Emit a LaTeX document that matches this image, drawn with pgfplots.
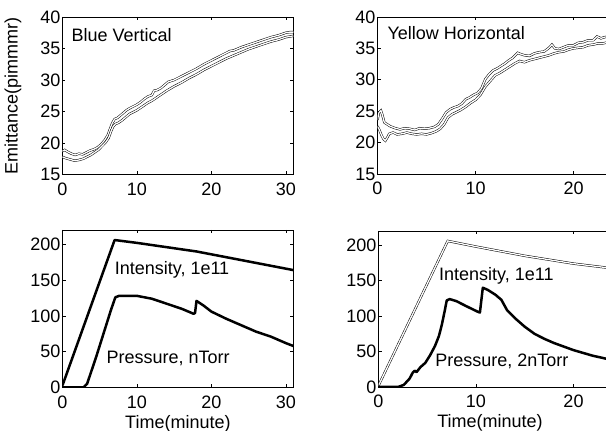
\documentclass[border=0pt]{standalone}
\usepackage{pgfplots}
\pgfplotsset{compat=1.18}
\usepackage{fontspec}
\setmainfont{Liberation Sans}
\newcommand{\bigf}{\fontsize{18}{21}\selectfont}
\pgfplotsset{
  panel/.style={
    scale only axis, anchor=south west,
    font=\bigf,
    /pgf/number format/assume math mode=true,
    tick align=inside, major tick length=3pt,
    axis line style={line width=0.8pt},
    every tick/.style={black, line width=0.6pt},
    yticklabel style={inner sep=1pt, xshift=-1pt},
    xticklabel style={inner sep=1pt, yshift=-7pt},
    xmin=0, xtick={0,10,20,30},
    clip=true,
    every axis y label/.style={at={(rel axis cs:0,0.5)}, xshift=-49.5pt, rotate=90, anchor=center},
    every axis x label/.style={at={(rel axis cs:0.5,0)}, anchor=center, yshift=-36pt},
  },
  emit/.style={panel, ymin=15, ymax=40, ytick={15,20,...,40}},
  inten/.style={panel, ymin=0, ymax=220, ytick={0,50,...,200}},
  hollow/.style={draw=black, line width=0.5pt, double=white, double distance=1.3pt},
  solid line/.style={black, line width=2.5pt, line join=round},
}
\begin{document}
\begin{tikzpicture}
% top left
\begin{axis}[emit, at={(62.5pt,256.5pt)}, width=230.8pt, height=157.5pt, xmax=31,
  ylabel={Emittance(pimmmr)}]
\addplot[hollow] coordinates {
(0,18.7)(0.3,18.9)(0.7,18.6)(1.2,18.3)(1.7,18.1)(2.2,18.3)(2.7,18.2)(3.2,18.5)(3.7,18.8)(4.2,19.0)(4.7,19.3)(5.2,19.8)(5.7,20.5)(6.1,21.3)(6.4,22.3)(6.7,23.2)(7.0,23.8)(7.4,24.0)(7.8,24.4)(8.2,24.8)(8.6,25.2)(9.0,25.5)(9.5,25.8)(10.0,26.1)(10.5,26.5)(11.0,27.0)(11.5,27.4)(12.0,27.6)(12.3,28.3)(12.7,28.4)(13.2,28.7)(13.7,29.2)(14.2,29.7)(15.0,30.0)(16.0,30.6)(17.0,31.2)(18.0,31.8)(19.0,32.5)(20.0,33.1)(21.0,33.7)(22.0,34.3)(22.5,34.6)(23.0,34.7)(24.0,35.2)(25.0,35.6)(26.0,36.0)(27.0,36.4)(28.0,36.8)(29.0,37.1)(30.0,37.5)(30.5,37.6)(31.0,37.6)};
\addplot[hollow] coordinates {
(0,17.8)(0.4,17.6)(1.0,17.4)(1.6,17.2)(2.2,17.3)(2.8,17.5)(3.3,17.8)(3.8,18.1)(4.3,18.5)(4.8,18.9)(5.3,19.5)(5.8,20.1)(6.2,20.8)(6.5,21.8)(6.8,22.6)(7.1,23.0)(7.5,23.2)(8.0,23.6)(8.5,24.1)(9.0,24.6)(9.5,24.9)(10.0,25.2)(10.5,25.6)(11.0,26.0)(11.5,26.4)(12.0,26.7)(12.5,27.1)(13.0,27.5)(13.5,27.9)(14.0,28.3)(15.0,29.0)(16.0,29.6)(17.0,30.3)(18.0,30.9)(19.0,31.6)(20.0,32.2)(21.0,32.8)(22.0,33.4)(23.0,33.9)(24.0,34.4)(25.0,34.9)(26.0,35.3)(27.0,35.7)(28.0,36.1)(29.0,36.4)(30.0,36.8)(31.0,37.0)};
\node[anchor=west, inner sep=0pt] at (axis cs:1.2,37.1) {Blue Vertical};
\end{axis}
% top right
\begin{axis}[emit, at={(377.5pt,257pt)}, width=231.3pt, height=157pt, xmax=23.6]
\addplot[hollow] coordinates {
(0,23.6)(0.15,24.8)(0.35,25.1)(0.5,24.4)(0.7,23.2)(1.0,22.9)(1.3,22.6)(1.8,22.3)(2.3,22.1)(2.8,22.3)(3.3,22.2)(3.8,22.0)(4.3,22.3)(4.8,22.2)(5.3,22.3)(5.8,22.5)(6.2,22.9)(6.6,23.8)(7.0,24.8)(7.4,25.3)(7.8,25.6)(8.2,25.8)(8.6,26.2)(9.0,26.9)(9.4,27.2)(9.8,27.6)(10.2,27.9)(10.6,28.6)(11.0,30.1)(11.4,30.9)(11.8,31.5)(12.2,31.8)(12.6,32.2)(13.0,32.6)(13.4,33.1)(13.8,33.5)(14.3,34.3)(14.6,34.1)(15.0,33.9)(15.5,33.8)(16.0,34.2)(16.5,34.4)(17.0,34.5)(17.5,35.1)(17.8,35.6)(18.1,35.0)(18.5,34.9)(19.0,35.2)(19.5,35.5)(20.0,35.5)(20.5,35.9)(21.0,36.0)(21.5,36.3)(22.0,36.3)(22.4,36.9)(22.8,36.6)(23.2,36.8)(23.6,36.9)};
\addplot[hollow] coordinates {
(0,22.6)(0.2,22.0)(0.4,21.2)(0.6,20.6)(0.8,20.3)(1.0,20.8)(1.2,21.4)(1.6,21.6)(2.0,21.3)(2.5,21.4)(3.0,21.6)(3.5,21.4)(4.0,21.3)(4.5,21.4)(5.0,21.3)(5.5,21.5)(6.0,21.8)(6.4,22.2)(6.8,22.9)(7.2,24.0)(7.6,24.5)(8.0,24.8)(8.5,25.2)(9.0,25.7)(9.5,26.3)(10.0,26.8)(10.5,27.6)(11.0,28.9)(11.5,29.8)(12.0,30.7)(12.5,31.1)(13.0,31.6)(13.5,32.1)(14.0,32.6)(14.5,33.0)(15.0,32.8)(15.5,33.1)(16.0,33.3)(16.5,33.5)(17.0,33.7)(17.5,33.9)(18.0,34.2)(18.5,34.4)(19.0,34.5)(19.5,34.8)(20.0,35.0)(20.5,35.1)(21.0,35.2)(21.5,35.5)(22.0,35.6)(22.5,35.8)(23.0,35.8)(23.6,36.0)};
\node[anchor=west, inner sep=0pt] at (axis cs:1.0,37.4) {Yellow Horizontal};
\end{axis}
% bottom left
\begin{axis}[inten, at={(62.5pt,43.5pt)}, width=230.8pt, height=157.5pt, xmax=31,
  xlabel={Time(minute)}]
\addplot[solid line] coordinates {(0,3)(7.0,206)(10,202)(14,196)(18,190)(22,182)(26,174)(31,164)};
\addplot[solid line] coordinates {(0,0)(2.8,0)(3.3,5)(4.5,42)(5.5,75)(6.5,108)(7.1,126)(7.6,128)(10,128)(12,124)(14,117)(16,110)(17.6,103)(17.8,104)(18.0,121)(19,114)(20,106)(22,96)(24,87)(26,78)(28,71)(30,62)(31,58)};
\node[anchor=west, inner sep=0pt] at (axis cs:7.0,164) {Intensity, 1e11};
\node[anchor=west, inner sep=0pt] at (axis cs:5.9,41) {Pressure, nTorr};
\end{axis}
% bottom right
\begin{axis}[inten, at={(378.5pt,44pt)}, width=230.1pt, height=156pt, xmax=23.6,
  xlabel={Time(minute)}, xlabel style={xshift=-3.5pt}]
\addplot[hollow] coordinates {(0,2)(7.1,206)(10,198)(15,185)(20,174)(23.6,168)};
\addplot[solid line] coordinates {(0,0)(2.0,0)(2.6,3)(3.2,12)(3.5,20)(3.7,23)(3.9,21)(4.3,28)(4.8,34)(5.3,45)(5.8,58)(6.2,72)(6.5,88)(6.8,108)(7.0,122)(7.3,124)(8,121)(9,114)(10.2,106)(10.4,105)(10.7,140)(11.2,137)(12,130)(12.6,123)(13.2,108)(14,97)(15,85)(16,75)(17,68)(18,62)(19,57)(20,52)(21,48)(22,44)(23,41)(23.6,39)};
\node[anchor=west, inner sep=0pt] at (axis cs:6.2,157) {Intensity, 1e11};
\node[anchor=west, inner sep=0pt] at (axis cs:5.8,35.5) {Pressure, 2nTorr};
\end{axis}
\pgfresetboundingbox
\useasboundingbox (0pt,0pt) rectangle (606pt,431pt);
\end{tikzpicture}
\end{document}
